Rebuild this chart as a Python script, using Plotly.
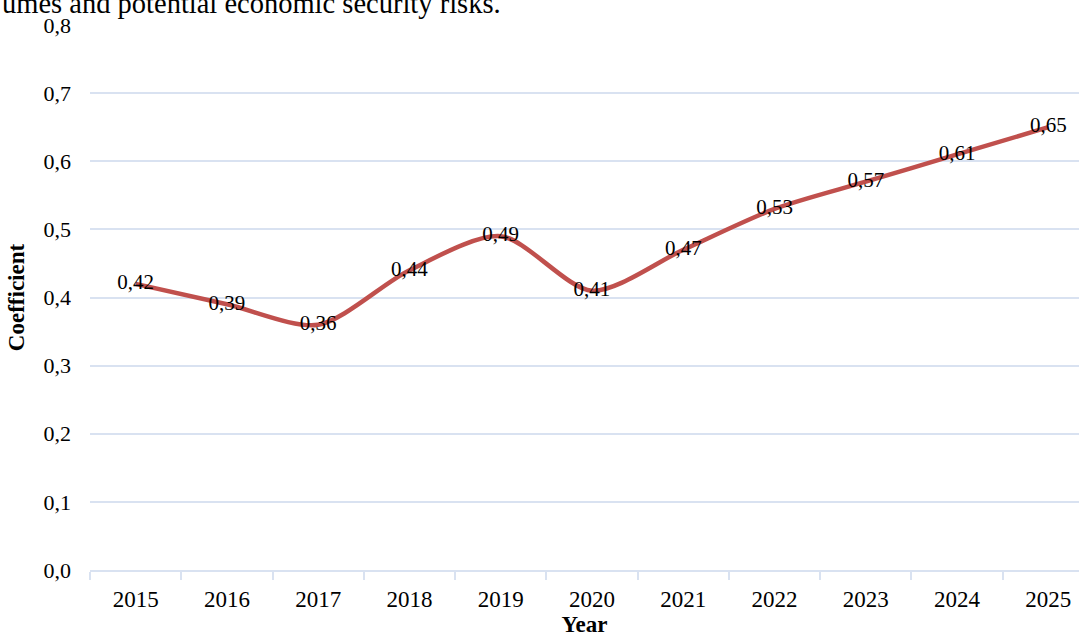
import plotly.graph_objects as go

years = ["2015", "2016", "2017", "2018", "2019", "2020", "2021", "2022", "2023", "2024", "2025"]
coefficient = [0.42, 0.39, 0.36, 0.44, 0.49, 0.41, 0.47, 0.53, 0.57, 0.61, 0.65]
y_ticks = [0.0, 0.1, 0.2, 0.3, 0.4, 0.5, 0.6, 0.7, 0.8]

FONT = "Liberation Serif"
GRID = "#d9e2f1"

fig = go.Figure()
fig.add_trace(go.Scatter(
    x=years, y=coefficient,
    mode="lines+text",
    line=dict(color="#c0504d", width=4.5, shape="spline", smoothing=0.8),
    texttemplate="%{y:.2f}",
    textposition="middle center",
    textfont=dict(family=FONT, size=21, color="#000000"),
    hoverinfo="skip",
    showlegend=False,
))

fig.update_layout(
    width=1079, height=637,
    margin=dict(l=90, r=0, t=25, b=67),
    paper_bgcolor="white", plot_bgcolor="white",
    separators=", ",
    font=dict(family=FONT, size=21, color="#000000"),
    xaxis=dict(
        type="category",
        range=[-0.5, 10.336],
        tickson="boundaries",
        ticks="outside", ticklen=8, tickcolor=GRID, tickwidth=2,
        showline=True, linecolor=GRID, linewidth=2,
        showgrid=False,
        tickfont=dict(family=FONT, size=23),
        ticklabelstandoff=7,
        title=dict(text="<b>Year</b>", font=dict(family=FONT, size=23), standoff=10),
    ),
    yaxis=dict(
        range=[0, 0.8],
        tickvals=y_ticks,
        tickformat=".1f",
        showgrid=True, gridcolor=GRID, gridwidth=2,
        zeroline=False,
        tickfont=dict(family=FONT, size=22),
        ticklabelstandoff=18,
        title=dict(text="<b>Coefficient</b>", font=dict(family=FONT, size=23), standoff=12),
    ),
    annotations=[dict(
        text="umes and potential economic security risks.",
        xref="paper", yref="paper", x=-0.091, y=1.0,
        xanchor="left", yanchor="bottom", yshift=4,
        showarrow=False,
        font=dict(family=FONT, size=28.5, color="#000000"),
    )],
)

fig.write_html("out.html")
